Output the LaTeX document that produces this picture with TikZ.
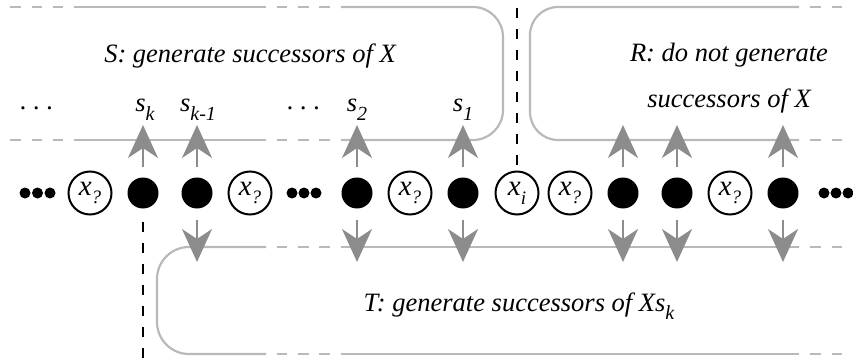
\documentclass[tikz,border=0pt]{standalone}
\usepackage{fontspec}
\setmainfont{Liberation Serif}
\usetikzlibrary{arrows.meta}
\definecolor{linegray}{RGB}{185,185,185}
\definecolor{arrowgray}{RGB}{140,140,140}
\newcommand\lbsub[1]{\raisebox{-0.32em}{\fontsize{20}{20}\selectfont #1}}
\newcommand\vsub[1]{\raisebox{-0.3em}{\fontsize{19}{19}\selectfont #1}}
\begin{document}
\begin{tikzpicture}[x=1pt,y=-1pt,
  boxline/.style={draw=linegray, line width=2.2pt},
  divider/.style={draw=black, line width=2.5pt, dash pattern=on 10pt off 11pt},
  arr/.style={draw=arrowgray, line width=2.5pt, -{Stealth[length=33pt,width=30pt,inset=10pt]}},
  blk/.style={circle, fill=black, minimum size=31pt, inner sep=0pt},
  var/.style={circle, draw=black, line width=2pt, minimum size=43pt, inner sep=0pt, font=\fontsize{29}{29}\selectfont\itshape},
  tdot/.style={circle, fill=black, minimum size=11pt, inner sep=0pt},
  lbl/.style={font=\fontsize{26.5}{30}\selectfont\itshape, inner sep=0pt, anchor=base}]
\useasboundingbox (0,0) rectangle (853,358);

% ---------- boxes (gray lines) ----------
% S box
\draw[boxline] (74,7) -- (266,7);
\draw[boxline] (74,140) -- (266,140);
\draw[boxline, rounded corners=30pt] (341,7) -- (503,7) -- (503,140) -- (341,140);
% R box
\draw[boxline, rounded corners=28pt] (799,7) -- (530,7) -- (530,140) -- (799,140);
% T box
\draw[boxline, rounded corners=32pt] (266,247) -- (157,247) -- (157,354) -- (266,354);
\draw[boxline] (341,247) -- (799,247);
\draw[boxline] (341,354) -- (799,354);
% dashed continuations
\foreach \y in {7,140} {
  \foreach \a/\b in {10/21,32/42,53/63,277/287,298/309,319/330,810/821,832/842}
    \draw[boxline] (\a,\y) -- (\b,\y);
}
\foreach \y in {247,354} {
  \foreach \a/\b in {277/287,298/309,319/330,810/821,832/842}
    \draw[boxline] (\a,\y) -- (\b,\y);
}

% ---------- nodes ----------
\node[tdot] (d1) at (25,193) {};
\node[tdot] (d2) at (37.5,193) {};
\node[tdot] (d3) at (50,193) {};
\node[var] (v1) at (90,193) {x\vsub{?}};
\node[blk] (b1) at (143,193) {};
\node[blk] (b2) at (197,193) {};
\node[var] (v2) at (250,193) {x\vsub{?}};
\node[tdot] (d4) at (292,193) {};
\node[tdot] (d5) at (304,193) {};
\node[tdot] (d6) at (316,193) {};
\node[blk] (b3) at (357,193) {};
\node[var] (v3) at (410,193) {x\vsub{?}};
\node[blk] (b4) at (463,193) {};
\node[var] (xi) at (517,193) {x\vsub{i}};
\node[var] (v4) at (570,193) {x\vsub{?}};
\node[blk] (b5) at (623,193) {};
\node[blk] (b6) at (677,193) {};
\node[var] (v5) at (730,193) {x\vsub{?}};
\node[blk] (b7) at (783,193) {};
\node[tdot] (d7) at (824,193) {};
\node[tdot] (d8) at (836,193) {};
\node[tdot] (d9) at (848,193) {};

% ---------- arrows ----------
\foreach \n/\x in {b1/143,b2/197,b3/357,b4/463,b5/623,b6/677,b7/783} {
  \coordinate (up\n) at (\x,125);
  \draw[arr, shorten <=10pt] (\n) -- (up\n);
}
\foreach \n/\x in {b2/197,b3/357,b4/463,b5/623,b6/677,b7/783} {
  \coordinate (dn\n) at (\x,262);
  \draw[arr, shorten <=11pt] (\n) -- (dn\n);
}

% ---------- dividers ----------
\coordinate (dtop) at (517,8);
\draw[divider] (dtop) -- (xi);
\coordinate (dbot) at (143,358);
\draw[divider, shorten <=13pt] (b1) -- (dbot);

% ---------- labels ----------
\node[lbl] (ls) at (250,63) {S: generate successors of X};
\node[lbl] (lr1) at (729,62) {R: do not generate};
\node[lbl] (lr2) at (729,108) {successors of X};
\node[lbl] (lt) at (519,311) {T: generate successors of Xs\lbsub{k}};
\node[lbl] (e1) at (37,110) {.\ .\ .};
\node[lbl] (lsk) at (145,112) {s\lbsub{k}};
\node[lbl] (lsk1) at (198,112) {s\lbsub{k-1}};
\node[lbl] (e2) at (304,110) {.\ .\ .};
\node[lbl] (ls2) at (357,112) {s\lbsub{2}};
\node[lbl] (ls1) at (463,112) {s\lbsub{1}};
\end{tikzpicture}
\end{document}
